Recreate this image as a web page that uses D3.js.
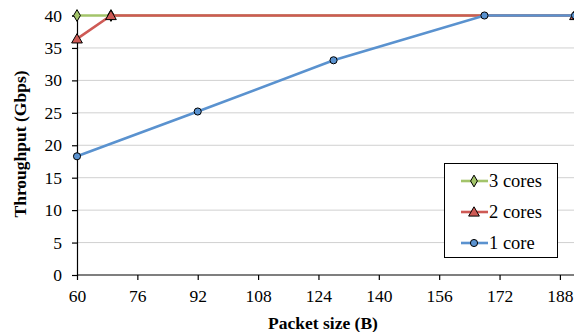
<!DOCTYPE html>
<html><head><meta charset="utf-8">
<script src="https://cdn.jsdelivr.net/npm/d3@7"></script>
<style>body{margin:0;background:#fff;}</style>
</head><body>
<svg id="c" width="574" height="332"></svg>
<script>
const FONT = "Liberation Serif";
const xTicks = [60,76,92,108,124,140,156,172,188];
const yTicks = [0,5,10,15,20,25,30,35,40];
const seriesNames = ["3 cores","2 cores","1 core"];
const cores3X = [60,69,192], cores3Y = [40,40,40];
const cores2X = [60,69,192], cores2Y = [36.4,40,40];
const cores1X = [60,92,128,168,192], cores1Y = [18.3,25.2,33.1,40,40];
const colors = ["#A3C46A","#CE5A55","#5A92CF"];
const markers = ["diamond","triangle","circle"];

const svg = d3.select("#c");
const x = d3.scaleLinear().domain([60,192]).range([77,575]);
const y = d3.scaleLinear().domain([0,40]).range([275,15.5]);

svg.append("g").selectAll("line").data(yTicks.filter(d=>d>0)).join("line")
  .attr("x1",77).attr("x2",574).attr("y1",d=>y(d)).attr("y2",d=>y(d))
  .attr("stroke","#d0d0d0").attr("stroke-width",1);

const xa = svg.append("g").attr("transform","translate(0,275)")
  .call(d3.axisBottom(x).tickValues(xTicks).tickSize(5).tickPadding(10).tickFormat(d3.format("d")));
const ya = svg.append("g").attr("transform","translate(77,0)")
  .call(d3.axisLeft(y).tickValues(yTicks).tickSize(5).tickPadding(10));
[xa,ya].forEach(a=>{
  a.attr("font-family",null).attr("font-size",null);
  a.selectAll("path,line").attr("stroke","#000").attr("stroke-width",1.2);
  a.selectAll("text").style("font-size","17.5px").attr("fill","#000").style("font-family",FONT);
});
xa.select(".domain").attr("d","M77,0H575");

svg.append("text").attr("x",323).attr("y",329).attr("text-anchor","middle").style("font-family",FONT)
  .attr("font-weight","bold").style("font-size","17.5px").text("Packet size (B)");
svg.append("text").attr("transform","translate(26,144) rotate(-90)").attr("text-anchor","middle").style("font-family",FONT)
  .attr("font-weight","bold").style("font-size","17.5px").text("Throughput (Gbps)");

const data = [
  cores3X.map((v,i)=>[v,cores3Y[i]]),
  cores2X.map((v,i)=>[v,cores2Y[i]]),
  cores1X.map((v,i)=>[v,cores1Y[i]])
];
const line = d3.line().x(d=>x(d[0])).y(d=>y(d[1]));
const symType = {diamond:d3.symbolDiamond, triangle:d3.symbolTriangle, circle:d3.symbolCircle};
const symSize = {diamond:40, triangle:50, circle:40};

function drawMarker(g, kind, cx, cy, col){
  g.append("path").attr("d", d3.symbol().type(symType[kind]).size(symSize[kind])())
   .attr("transform",`translate(${cx},${cy + (kind==="triangle"?1:0)})`)
   .attr("fill",col).attr("stroke","#000").attr("stroke-width",1);
}

data.forEach((s,i)=>{
  const g = svg.append("g");
  g.append("path").datum(s).attr("d",line).attr("fill","none")
   .attr("stroke",colors[i]).attr("stroke-width",2.6);
  s.forEach(p=>drawMarker(g, markers[i], x(p[0]), y(p[1]), colors[i]));
});

const lg = svg.append("g");
lg.append("rect").attr("x",444.5).attr("y",163.5).attr("width",113).attr("height",94)
  .attr("fill","#fff").attr("stroke","#000").attr("stroke-width",1);
const ly = [181,212,243];
seriesNames.forEach((n,i)=>{
  lg.append("line").attr("x1",461).attr("x2",488).attr("y1",ly[i]).attr("y2",ly[i])
    .attr("stroke",colors[i]).attr("stroke-width",2.6);
  drawMarker(lg, markers[i], 474, ly[i], colors[i]);
  lg.append("text").attr("x",489).attr("y",ly[i]+6).style("font-family",FONT).style("font-size","18.5px").text(n);
});
</script>
</body></html>
